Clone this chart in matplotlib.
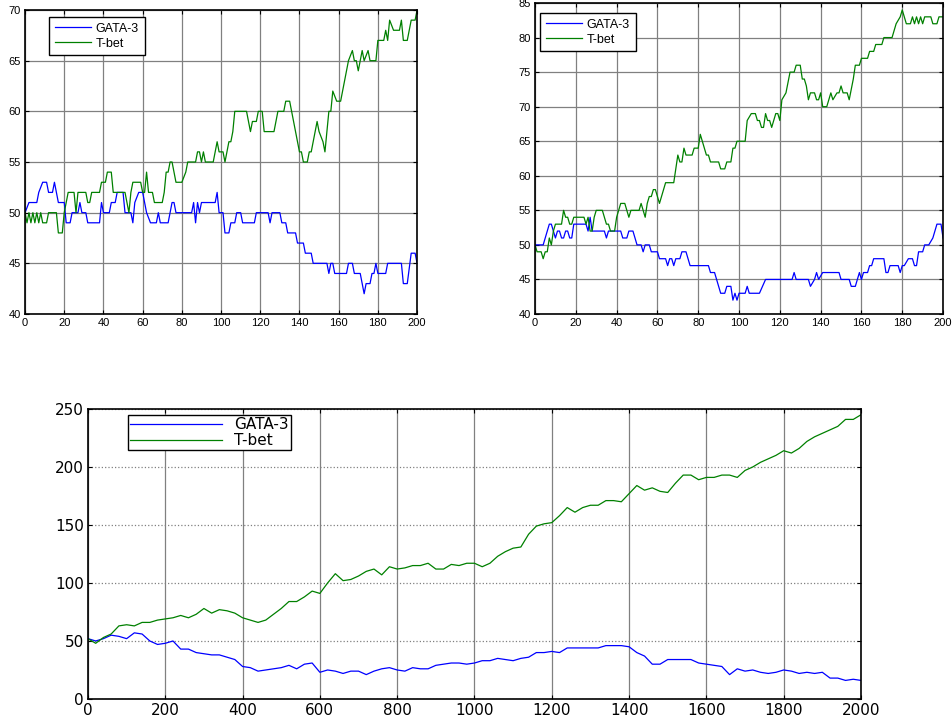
import matplotlib
matplotlib.use("Agg")
import matplotlib.pyplot as plt

# short run, first sample (step breakpoints)
a_gata_x = [0, 2, 6, 7, 9, 11, 12, 14, 15, 16, 17, 20, 21, 23, 24, 27, 28, 29, 31, 32, 38, 39, 40, 43,
            44, 46, 47, 50, 51, 54, 55, 56, 58, 60, 62, 64, 67, 68, 69, 73, 74, 75, 76, 77, 85, 86, 87,
            88, 89, 90, 97, 98, 99, 101, 102, 104, 105, 107, 108, 110, 111, 117, 118, 124, 125, 126,
            130, 131, 133, 134, 138, 139, 142, 143, 146, 147, 154, 155, 156, 157, 158, 164, 165, 167,
            168, 171, 172, 173, 174, 176, 177, 178, 179, 180, 184, 185, 192, 193, 195, 197, 199, 200]
a_gata_y = [50, 51, 51, 52, 53, 53, 52, 52, 53, 52, 51, 51, 49, 49, 50, 50, 51, 50, 50, 49, 49, 51, 50, 50,
            51, 51, 52, 52, 50, 50, 49, 51, 52, 52, 50, 49, 49, 50, 49, 49, 50, 51, 51, 50, 50, 51, 49,
            51, 50, 51, 51, 52, 50, 50, 48, 48, 49, 49, 50, 50, 49, 49, 50, 50, 49, 50,
            50, 49, 49, 48, 48, 47, 47, 46, 46, 45, 45, 44, 45, 45, 44, 44, 45, 45,
            44, 44, 43, 42, 43, 43, 44, 44, 45, 44, 44, 45, 45, 43, 43, 46, 46, 45]

a_tbet_x = [0, 1, 2, 3, 4, 5, 6, 7, 8, 9, 11, 12, 16, 17, 19, 20, 21, 22, 25, 26, 27, 31, 32, 33, 34, 38,
            39, 41, 42, 44, 45, 51, 52, 53, 54, 55, 59, 60, 61, 62, 63, 65, 66, 70, 71, 72, 73, 74, 75,
            76, 77, 80, 82, 83, 87, 88, 89, 90, 91, 92, 96, 98, 99, 101, 102, 103, 104, 105, 106, 107,
            113, 114, 115, 116, 118, 119, 121, 122, 127, 129, 132, 133, 135, 136, 138, 139, 140, 141,
            142, 144, 145, 146, 147, 148, 149, 150, 152, 153, 155, 156, 157, 159, 161, 162, 164, 165,
            167, 168, 169, 170, 172, 173, 175, 176, 179, 180, 183, 184, 185, 186, 188, 191, 192, 193,
            195, 197, 199, 200]
a_tbet_y = [50, 49, 50, 49, 50, 49, 50, 49, 50, 49, 49, 50, 50, 48, 48, 50, 51, 52, 52, 50, 52, 52, 51, 51, 52, 52,
            53, 53, 54, 54, 52, 52, 51, 50, 52, 53, 53, 52, 52, 54, 52, 52, 51, 51, 52, 54, 54, 55, 55,
            54, 53, 53, 54, 55, 55, 56, 56, 55, 56, 55, 55, 57, 56, 56, 55, 56, 57, 57, 58, 60,
            60, 59, 58, 59, 59, 60, 60, 58, 58, 60, 60, 61, 61, 60, 58, 57, 56, 56,
            55, 55, 56, 56, 57, 58, 59, 58, 57, 56, 60, 60, 62, 61, 61, 62, 64, 65,
            66, 65, 65, 64, 66, 65, 66, 65, 65, 67, 67, 68, 67, 69, 68, 68, 69, 67,
            67, 69, 69, 70]

# short run, second sample
b_gata_x = [0, 4, 5, 6, 7, 8, 9, 10, 11, 12, 13, 14, 15, 16, 17, 18, 19, 25, 26, 27, 28, 34, 35, 36, 42,
            43, 45, 46, 48, 49, 50, 52, 53, 54, 56, 57, 60, 61, 64, 65, 66, 67, 68, 69, 71, 72, 74, 75,
            76, 85, 86, 88, 89, 90, 91, 93, 94, 96, 97, 98, 99, 100, 103, 104, 105, 110, 113, 126, 127,
            128, 134, 135, 137, 138, 139, 141, 149, 150, 154, 155, 157, 159, 160, 161, 163, 164, 165,
            166, 171, 172, 173, 174, 178, 179, 180, 181, 183, 185, 186, 187, 188, 190, 191, 193, 195,
            196, 197, 199, 200]
b_gata_y = [50, 50, 51, 52, 53, 53, 52, 51, 52, 52, 51, 51, 52, 52, 51, 51, 53, 53, 52, 54, 52, 52, 51, 52, 52,
            51, 51, 52, 52, 51, 50, 50, 49, 50, 50, 49, 49, 48, 48, 47, 48, 48, 47, 48, 48, 49, 49, 48,
            47, 47, 46, 46, 45, 44, 43, 43, 44, 44, 42, 43, 42, 43, 43, 44, 43, 43, 45, 45, 46,
            45, 45, 44, 45, 46, 45, 46, 46, 45, 45, 44, 44, 46, 45, 46, 46, 47, 47,
            48, 48, 46, 46, 47, 47, 46, 47, 47, 48, 48, 47, 47, 49, 49, 50, 50, 51,
            52, 53, 53, 51]

b_tbet_x = [0, 1, 3, 4, 5, 6, 7, 8, 9, 10, 13, 14, 15, 16, 17, 18, 19, 24, 25, 26, 27, 28, 29, 30, 33,
            34, 35, 36, 37, 39, 40, 41, 42, 44, 45, 46, 47, 51, 52, 53, 54, 55, 56, 57, 58, 59, 60, 61,
            62, 63, 64, 68, 69, 70, 71, 72, 73, 74, 77, 78, 80, 81, 82, 83, 84, 85, 86, 90, 91, 93, 94,
            96, 97, 98, 99, 103, 104, 106, 108, 109, 110, 111, 112, 113, 114, 115, 116, 117, 118, 119,
            120, 121, 123, 125, 127, 128, 130, 131, 132, 133, 134, 135, 137, 138, 139, 140, 141, 143,
            145, 146, 148, 149, 150, 151, 153, 154, 156, 157, 159, 160, 163, 164, 166, 167, 170, 171,
            175, 177, 179, 180, 181, 182, 184, 185, 186, 187, 188, 189, 190, 191, 194, 195, 197, 198, 200]
b_tbet_y = [50, 49, 49, 48, 49, 49, 51, 50, 52, 53, 53, 55, 54, 54, 53, 53, 54, 54, 53, 54, 52, 52, 54, 55, 55,
            54, 53, 53, 52, 52, 54, 55, 56, 56, 55, 54, 55, 55, 56, 55, 54, 56, 57, 57, 58, 58, 57, 56,
            57, 58, 59, 59, 61, 63, 62, 62, 64, 63, 63, 64, 64, 66, 65, 64, 63, 63, 62, 62, 61, 61, 62,
            62, 64, 64, 65, 65, 68, 69, 69, 68, 68, 67, 67, 69, 68, 68, 67, 68, 69, 69,
            68, 71, 72, 75, 75, 76, 76, 74, 74, 73, 71, 72, 72, 71, 71, 72, 70, 70,
            72, 71, 72, 72, 73, 72, 72, 71, 74, 76, 76, 77, 77, 78, 78, 79, 79, 80,
            80, 82, 83, 84, 83, 82, 82, 83, 82, 83, 82, 83, 82, 83, 83, 82, 82, 83, 83]

# long run, sampled every 20 steps
long_x = list(range(0, 2001, 20))
long_gata = [52, 50, 52, 55, 54, 52, 57, 56, 50, 47, 48, 50, 43, 43, 40, 39, 38, 38, 36, 34,
             28, 27, 24, 25, 26, 27, 29, 26, 30, 31, 23, 25, 24, 22, 24, 24, 21, 24, 26, 27,
             25, 24, 27, 26, 26, 29, 30, 31, 31, 30, 31, 33, 33, 35, 34, 33, 35, 36, 40, 40,
             41, 40, 44, 44, 44, 44, 44, 46, 46, 46, 45, 40, 37, 30, 30, 34, 34, 34, 34, 31,
             30, 29, 28, 21, 26, 24, 25, 23, 22, 23, 25, 24, 22, 23, 22, 23, 18, 18, 16, 17, 16]
long_tbet = [52, 48, 53, 56, 63, 64, 63, 66, 66, 68, 69, 70, 72, 70, 73, 78, 74, 77, 76, 74,
             70, 68, 66, 68, 73, 78, 84, 84, 88, 93, 91, 100, 108, 102, 103, 106, 110, 112, 107, 114,
             112, 113, 115, 115, 117, 112, 112, 116, 115, 117, 117, 114, 117, 123, 127, 130, 131, 142, 149, 151,
             152, 158, 165, 161, 165, 167, 167, 171, 171, 170, 177, 184, 180, 182, 179, 178, 186, 193, 193, 189,
             191, 191, 193, 193, 191, 197, 200, 204, 207, 210, 214, 212, 216, 222, 226, 229, 232, 235, 241, 241, 245]

BLUE = "#0000ff"
GREEN = "#008000"


def style_axes(ax, font, size, hgrid_style="-"):
    ax.tick_params(direction="in", top=True, right=True, length=3, width=0.8,
                   labelsize=size, pad=3)
    for lbl in ax.get_xticklabels() + ax.get_yticklabels():
        lbl.set_fontfamily(font)
    for sp in ax.spines.values():
        sp.set_linewidth(1.2)
        sp.set_color("black")
    ax.grid(True, axis="x", color="#808080", linestyle="-", linewidth=0.9)
    ax.grid(True, axis="y", color="#808080", linestyle=hgrid_style, linewidth=0.9)
    ax.set_axisbelow(True)


def add_legend(ax, anchor, font, size, hlen, spacing, pad, textpad):
    leg = ax.legend(loc="upper left", bbox_to_anchor=anchor, fancybox=False,
                    framealpha=1, edgecolor="black", borderaxespad=0,
                    handlelength=hlen, labelspacing=spacing, borderpad=pad,
                    handletextpad=textpad, prop={"family": font, "size": size})
    leg.get_frame().set_linewidth(1.0)


fig = plt.figure(figsize=(9.52, 7.2), dpi=100)

ax1 = fig.add_axes([0.0263, 0.5639, 0.4118, 0.4222])
ax1.plot(a_gata_x, a_gata_y, color=BLUE, lw=0.9, label="GATA-3")
ax1.plot(a_tbet_x, a_tbet_y, color=GREEN, lw=0.9, label="T-bet")
ax1.set_xlim(0, 200)
ax1.set_ylim(40, 70)
ax1.set_xticks(range(0, 201, 20))
ax1.set_yticks(range(40, 71, 5))
style_axes(ax1, "Liberation Sans", 8)
add_legend(ax1, (0.061, 0.977), "Liberation Sans", 9, 2.9, 0.25, 0.45, 0.4)

ax2 = fig.add_axes([0.562, 0.5639, 0.4286, 0.4319])
ax2.plot(b_gata_x, b_gata_y, color=BLUE, lw=0.9, label="GATA-3")
ax2.plot(b_tbet_x, b_tbet_y, color=GREEN, lw=0.9, label="T-bet")
ax2.set_xlim(0, 200)
ax2.set_ylim(40, 85)
ax2.set_xticks(range(0, 201, 20))
ax2.set_yticks(range(40, 86, 5))
style_axes(ax2, "Liberation Sans", 8)
add_legend(ax2, (0.012, 0.968), "Liberation Sans", 9, 2.9, 0.25, 0.45, 0.4)

ax3 = fig.add_axes([0.0924, 0.0292, 0.812, 0.4028])
ax3.plot(long_x, long_gata, color=BLUE, lw=0.9, label="GATA-3")
ax3.plot(long_x, long_tbet, color=GREEN, lw=0.9, label="T-bet")
ax3.set_xlim(0, 2000)
ax3.set_ylim(0, 250)
ax3.set_xticks(range(0, 2001, 200))
ax3.set_yticks(range(0, 251, 50))
style_axes(ax3, "DejaVu Sans", 11, hgrid_style=":")
add_legend(ax3, (0.052, 0.979), "DejaVu Sans", 11, 6.0, 0.05, 0.15, 0.8)

fig.savefig("out.png", dpi=100)
